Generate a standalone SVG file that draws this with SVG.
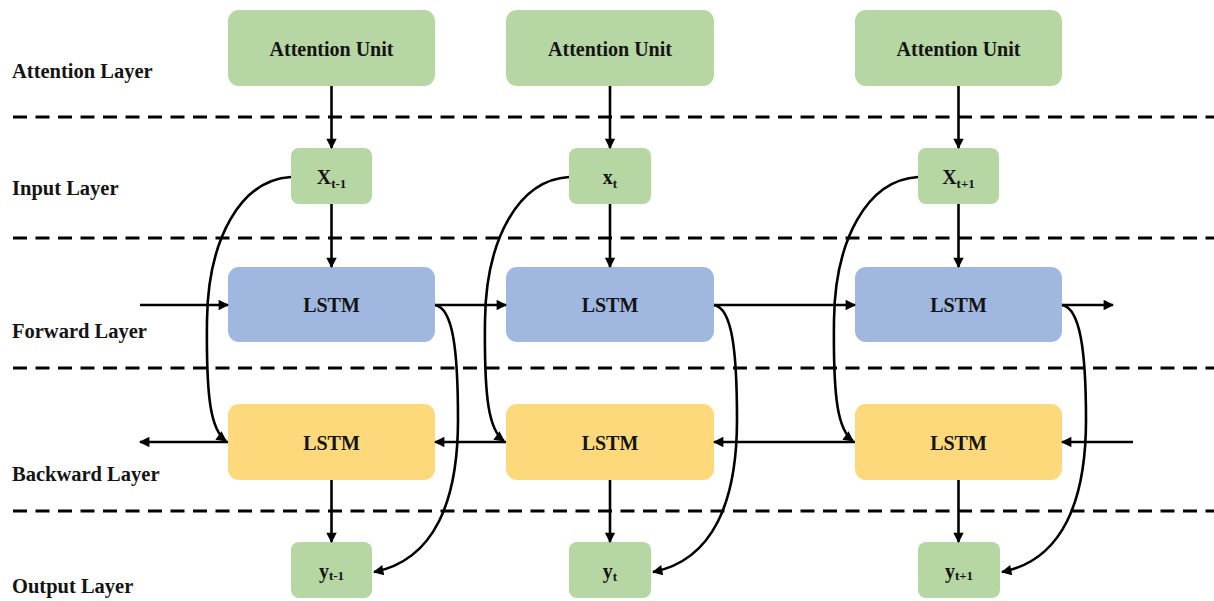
<svg xmlns="http://www.w3.org/2000/svg" width="1214" height="601" viewBox="0 0 1214 601">
<defs>
<marker id="ah" viewBox="0 0 10 10" refX="9" refY="5" markerWidth="4.5" markerHeight="4" orient="auto" markerUnits="strokeWidth">
<path d="M0,0 L10,5 L0,10 z" fill="#000"/>
</marker>
<style>
.t{font-family:"Liberation Serif","DejaVu Serif",serif;font-weight:bold;fill:#141414;}
.lbl{font-size:20.5px;}
.box{font-size:20px;text-anchor:middle;}
.sub{font-size:13px;}
.g{fill:#b6d6a3;}
.b{fill:#a0b8e0;}
.y{fill:#fed97c;}
.dash{stroke:#000;stroke-width:3;stroke-dasharray:14 8.5;fill:none;}
.c{stroke:#000;stroke-width:2.6;fill:none;marker-end:url(#ah);}
</style>
</defs>
<rect width="1214" height="601" fill="#fff"/>

<g id="layers" font-family="Liberation Serif, serif">
<text class="t lbl" x="12" y="78">Attention Layer</text>
<text class="t lbl" x="12" y="195">Input Layer</text>
<text class="t lbl" x="12" y="338">Forward  Layer</text>
<text class="t lbl" x="12" y="481">Backward  Layer</text>
<text class="t lbl" x="12" y="593">Output Layer</text>
</g>

<g id="separators">
<line class="dash" x1="13" y1="117" x2="1214" y2="117"/>
<line class="dash" x1="13" y1="238" x2="1214" y2="238"/>
<line class="dash" x1="13" y1="368" x2="1214" y2="368"/>
<line class="dash" x1="13" y1="511" x2="1214" y2="511"/>
</g>

<g id="att1"><rect class="g" x="228" y="10" width="207" height="76" rx="11"/><text class="t box" x="331.5" y="56">Attention Unit</text></g>
<g id="att2"><rect class="g" x="506" y="10" width="208" height="76" rx="11"/><text class="t box" x="610" y="56">Attention Unit</text></g>
<g id="att3"><rect class="g" x="855" y="10" width="207" height="76" rx="11"/><text class="t box" x="958.5" y="56">Attention Unit</text></g>

<g id="x1"><rect class="g" x="291" y="148" width="81" height="56" rx="8"/><text class="t box" x="331.5" y="184">X<tspan class="sub" dy="4">t-1</tspan></text></g>
<g id="x2"><rect class="g" x="569" y="148" width="82" height="56" rx="8"/><text class="t box" x="610" y="184">x<tspan class="sub" dy="4">t</tspan></text></g>
<g id="x3"><rect class="g" x="918" y="148" width="81" height="56" rx="8"/><text class="t box" x="958.5" y="184">X<tspan class="sub" dy="4">t+1</tspan></text></g>

<g id="f1"><rect class="b" x="228" y="267" width="207" height="75" rx="11"/><text class="t box" x="331.5" y="312">LSTM</text></g>
<g id="f2"><rect class="b" x="506" y="267" width="208" height="75" rx="11"/><text class="t box" x="610" y="312">LSTM</text></g>
<g id="f3"><rect class="b" x="855" y="267" width="207" height="75" rx="11"/><text class="t box" x="958.5" y="312">LSTM</text></g>

<g id="bk1"><rect class="y" x="228" y="404" width="207" height="76" rx="11"/><text class="t box" x="331.5" y="450">LSTM</text></g>
<g id="bk2"><rect class="y" x="506" y="404" width="208" height="76" rx="11"/><text class="t box" x="610" y="450">LSTM</text></g>
<g id="bk3"><rect class="y" x="855" y="404" width="207" height="76" rx="11"/><text class="t box" x="958.5" y="450">LSTM</text></g>

<g id="y1"><rect class="g" x="291" y="542" width="81" height="56" rx="8"/><text class="t box" x="331.5" y="578">y<tspan class="sub" dy="2">t-1</tspan></text></g>
<g id="y2"><rect class="g" x="569" y="542" width="82" height="56" rx="8"/><text class="t box" x="610" y="578">y<tspan class="sub" dy="3">t</tspan></text></g>
<g id="y3"><rect class="g" x="918" y="542" width="82" height="56" rx="8"/><text class="t box" x="959" y="578">y<tspan class="sub" dy="2">t+1</tspan></text></g>

<g id="connectors">
<line class="c" x1="331.5" y1="86" x2="331.5" y2="148"/>
<line class="c" x1="610" y1="86" x2="610" y2="148"/>
<line class="c" x1="958.5" y1="86" x2="958.5" y2="148"/>
<line class="c" x1="331.5" y1="204" x2="331.5" y2="267"/>
<line class="c" x1="610" y1="204" x2="610" y2="267"/>
<line class="c" x1="958.5" y1="204" x2="958.5" y2="267"/>
<line class="c" x1="331.5" y1="480" x2="331.5" y2="542"/>
<line class="c" x1="610" y1="480" x2="610" y2="542"/>
<line class="c" x1="958.5" y1="480" x2="958.5" y2="542"/>

<line class="c" x1="140" y1="305" x2="228" y2="305"/>
<line class="c" x1="435" y1="305" x2="506" y2="305"/>
<line class="c" x1="714" y1="305" x2="855" y2="305"/>
<line class="c" x1="1062" y1="305" x2="1113" y2="305"/>

<line class="c" x1="1133" y1="442" x2="1062" y2="442"/>
<line class="c" x1="855" y1="442" x2="714" y2="442"/>
<line class="c" x1="506" y1="442" x2="435" y2="442"/>
<line class="c" x1="228" y1="442" x2="140" y2="442"/>

<path class="c" d="M291 177 C240 180 208 240 207 320 C206 400 211 430 226 441"/>
<path class="c" d="M569 177 C518 180 486 240 485 320 C484 400 489 430 504 441"/>
<path class="c" d="M918 177 C867 180 835 240 834 320 C833 400 838 430 853 441"/>

<path class="c" d="M435 305 C453 308 458 350 458 420 C458 500 435 560 374 572"/>
<path class="c" d="M714 305 C732 308 737 350 737 420 C737 500 714 560 653 572"/>
<path class="c" d="M1062 305 C1080 308 1086 350 1086 420 C1086 500 1063 560 1002 572"/>
</g>
</svg>
